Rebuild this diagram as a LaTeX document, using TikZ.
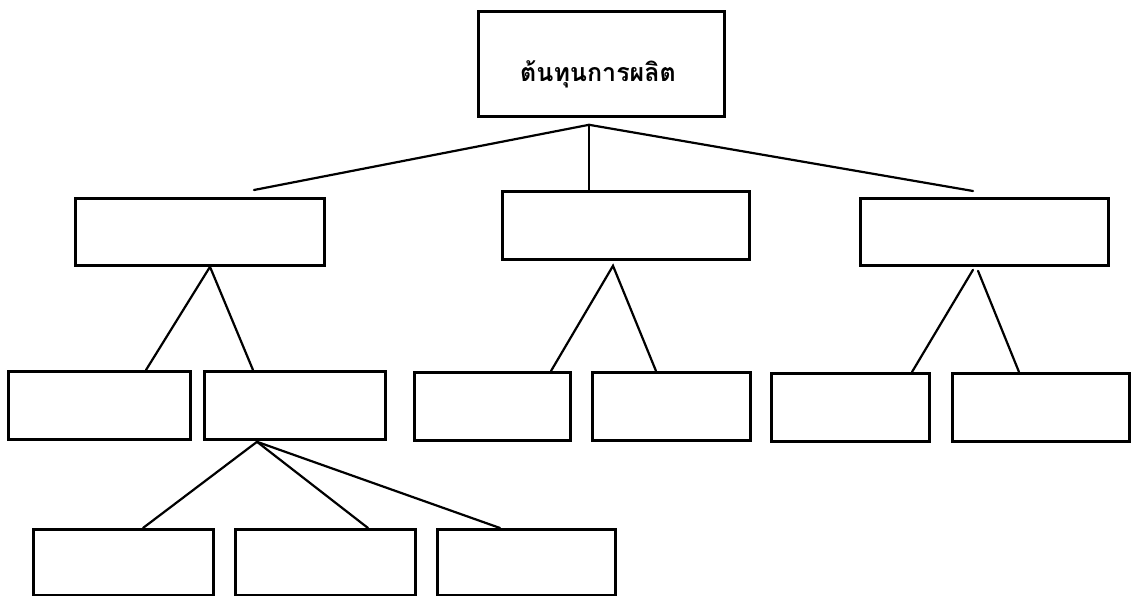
\documentclass[tikz,border=0pt]{standalone}
\usepackage{fontspec}
\newfontfamily\thaifont[Script=Thai]{Loma}
\usetikzlibrary{calc}
\tikzset{
  box/.style={draw, line width=2.8pt, inner sep=0pt, anchor=north west, fill=white},
  conn/.style={line width=2.2pt, line cap=round}
}
\begin{document}
\begin{tikzpicture}[x=1pt, y=-1pt]
\useasboundingbox (0,0) rectangle (1132,596);
% top
\node[box, minimum width=246pt, minimum height=105pt] (T) at (477,10) {};
\node[font=\thaifont\bfseries\fontsize{25}{29}\selectfont, inner sep=0pt] (Tt) at (598,74) {ต้นทุนการผลิต};
% middle
\node[box, minimum width=249pt, minimum height=67pt] (M1) at (74,197) {};
\node[box, minimum width=247pt, minimum height=68pt] (M2) at (501,190) {};
\node[box, minimum width=248pt, minimum height=67pt] (M3) at (859,197) {};
% row 3
\node[box, minimum width=182pt, minimum height=68pt] (A) at (7,370) {};
\node[box, minimum width=181pt, minimum height=68pt] (B) at (203,370) {};
\node[box, minimum width=156pt, minimum height=68pt] (C) at (413,371) {};
\node[box, minimum width=158pt, minimum height=68pt] (D) at (591,371) {};
\node[box, minimum width=158pt, minimum height=68pt] (E) at (770,372) {};
\node[box, minimum width=177pt, minimum height=68pt] (F) at (951,372) {};
% row 4
\node[box, minimum width=180pt, minimum height=66pt] (P) at (32,528) {};
\node[box, minimum width=180pt, minimum height=66pt] (Q) at (234,528) {};
\node[box, minimum width=178pt, minimum height=66pt] (R) at (436,528) {};
% connector points
\coordinate (Tap) at ($(T.south west)+(112,7)$);
\coordinate (TL) at ($(M1.north west)+(180,-7)$);
\coordinate (TR) at ($(M3.north west)+(114,-6)$);
\coordinate (m1a) at ($(M1.south west)+(136,0)$);
\coordinate (m2a) at ($(M2.south west)+(112,5)$);
\coordinate (m3a) at ($(M3.south west)+(114,3)$);
\coordinate (m3b) at ($(M3.south west)+(119,4)$);
\coordinate (ba) at ($(B.south west)+(54,1)$);
% connectors
\draw[conn] (TL) -- (Tap) -- (TR);
\draw[conn] (Tap) -- (Tap |- M2.north);
\draw[conn] ($(A.north west)+(139,0)$) -- (m1a) -- ($(B.north west)+(50,0)$);
\draw[conn] ($(C.north west)+(138,0)$) -- (m2a) -- ($(D.north west)+(65,0)$);
\draw[conn] ($(E.north west)+(142,0)$) -- (m3a);
\draw[conn] (m3b) -- ($(F.north west)+(68,0)$);
\draw[conn] ($(P.north west)+(111,0)$) -- (ba) -- ($(Q.north west)+(134,0)$);
\draw[conn] (ba) -- ($(R.north west)+(64,0)$);
\end{tikzpicture}
\end{document}
